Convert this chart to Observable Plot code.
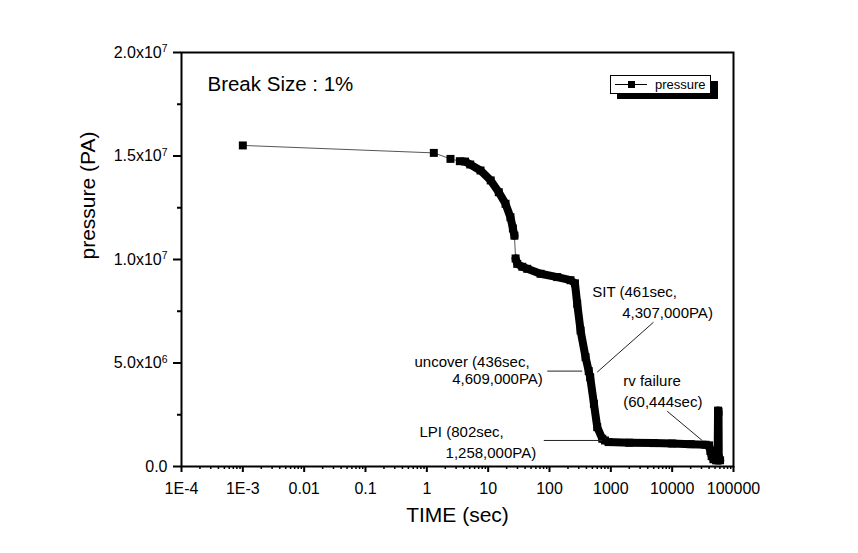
<!DOCTYPE html>
<html>
<head>
<meta charset="utf-8">
<script src="https://cdn.jsdelivr.net/npm/d3@7"></script>
<script src="https://cdn.jsdelivr.net/npm/@observablehq/plot@0.6"></script>
<style>
  html, body { margin: 0; padding: 0; background: #fff; }
  #chart svg { display: block; font-family: "Liberation Sans", Arial, sans-serif; }
</style>
</head>
<body>
<div id="chart"></div>
<script>
// ---- data ----
// band: 0 = isolated marker, 1 = first dense run, 2 = second dense run
const timeSec = [0.001, 1.3, 2.43, 3.45,
  4.2, 5.1, 7.5, 11, 14.9, 19.2, 23.1, 25.3, 26.8,
  28.0, 29.8, 36, 43.4, 71.5, 134, 220, 260, 283, 321, 387, 436, 461, 530, 600, 725, 802, 918,
  2000, 5000, 10000, 20000, 35000, 40000, 42000, 44000, 47000, 52000, 55000, 56000, 57000, 57500, 60444];
const pressurePa = [1.551e7, 1.515e7, 1.486e7, 1.475e7,
  1.473e7, 1.459e7, 1.430e7, 1.382e7, 1.325e7, 1.269e7, 1.204e7, 1.15e7, 1.115e7,
  1.005e7, 9.79e6, 9.65e6, 9.55e6, 9.31e6, 9.15e6, 9.0e6, 8.85e6, 7.86e6, 6.57e6, 5.28e6, 4.609e6, 4.307e6, 3.03e6, 1.9e6, 1.34e6, 1.258e6, 1.18e6,
  1.15e6, 1.13e6, 1.11e6, 1.08e6, 1.05e6, 1.02e6, 0.75e6, 0.5e6, 0.35e6, 0.3e6, 0.3e6, 2.7e6, 2.65e6, 0.4e6, 0.3e6];
const band = [0, 0, 0, 0,
  1, 1, 1, 1, 1, 1, 1, 1, 1,
  2, 2, 2, 2, 2, 2, 2, 2, 2, 2, 2, 2, 2, 2, 2, 2, 2, 2,
  2, 2, 2, 2, 2, 2, 2, 2, 2, 2, 2, 2, 2, 2, 2];

// axis ticks
const xMajorTicks = [1e-4, 1e-3, 1e-2, 1e-1, 1, 10, 100, 1000, 10000, 100000];
const xTickLabels = ["1E-4", "1E-3", "0.01", "0.1", "1", "10", "100", "1000", "10000", "100000"];
const yMajorTicks = [0, 5e6, 1e7, 1.5e7, 2e7];
const yTickMantissa = ["0.0", "5.0x10", "1.0x10", "1.5x10", "2.0x10"];
const yTickExponent = ["", "6", "7", "7", "7"];
const yMinorTicks = [2.5e6, 7.5e6, 1.25e7, 1.75e7];

// annotations (data coordinates)
const annoText = ["SIT (461sec,", "4,307,000PA)", "uncover (436sec,", "4,609,000PA)",
  "rv failure", "(60,444sec)", "LPI (802sec,", "1,258,000PA)"];
const annoTime = [498, 1535, 0.63, 2.59, 1592, 1592, 0.76, 2.02];
const annoPressure = [8.42e6, 7.41e6, 5.04e6, 4.24e6, 4.12e6, 3.106e6, 1.657e6, 0.662e6];
const leaderT1 = [4966, 91.8, 8300, 80.7];
const leaderP1 = [6.97e6, 4.609e6, 2.67e6, 1.258e6];
const leaderT2 = [600, 341, 30900, 725];
const leaderP2 = [4.56e6, 4.609e6, 1.256e6, 1.258e6];

const breakLabel = "Break Size : 1%";
const breakAt = {t: 2.65e-4, p: 1.845e7};

// ---- build tables ----
const data = timeSec.map((t, i) => ({t, p: pressurePa[i], band: band[i]}));
const dense = data.filter(d => d.band > 0);
const annos = annoText.map((s, i) => ({s, t: annoTime[i], p: annoPressure[i]}));
const leaders = leaderT1.map((t1, i) => ({t1, p1: leaderP1[i], t2: leaderT2[i], p2: leaderP2[i]}));
const xMinorTicks = [];
for (let e = -4; e < 5; e++) for (let k = 2; k <= 9; k++) xMinorTicks.push(k * Math.pow(10, e));
const xFmt = new Map(xMajorTicks.map((v, i) => [v, xTickLabels[i]]));
const yFmt = new Map(yMajorTicks.map((v, i) => [v, yTickMantissa[i] + (yTickExponent[i] ? "^" + yTickExponent[i] : "")]));

const W = 858, H = 553;
const plot = Plot.plot({
  width: W, height: H,
  marginLeft: 181, marginRight: 125, marginTop: 52, marginBottom: 87,
  style: {fontFamily: '"Liberation Sans", Arial, sans-serif', color: "#000", background: "#fff"},
  x: {type: "log", domain: [1e-4, 1e5]},
  y: {domain: [0, 2e7]},
  marks: [
    Plot.axisX(xMinorTicks, {tickSize: 3, strokeWidth: 1.5, text: null}),
    Plot.axisX(xMajorTicks, {tickSize: 6, strokeWidth: 2, tickPadding: 10, fontSize: 16, tickFormat: d => xFmt.get(d), label: null}),
    Plot.axisY(yMinorTicks, {tickSize: 4, strokeWidth: 2, text: null}),
    Plot.axisY(yMajorTicks, {tickSize: 8, strokeWidth: 2, tickPadding: 6, fontSize: 16, tickFormat: d => yFmt.get(d), label: null}),
    Plot.frame({stroke: "#000", strokeWidth: 2}),
    Plot.line(data, {x: "t", y: "p", stroke: "#555", strokeWidth: 1}),
    Plot.line(dense, {x: "t", y: "p", z: "band", stroke: "#000", strokeWidth: 8, strokeLinejoin: "round"}),
    Plot.dot(data, {x: "t", y: "p", symbol: "square", r: 4.5, fill: "#000", stroke: null}),
    Plot.link(leaders, {x1: "t1", y1: "p1", x2: "t2", y2: "p2", stroke: "#222", strokeWidth: 1}),
    Plot.text(annos, {x: "t", y: "p", text: "s", textAnchor: "start", fontSize: 15, fill: "#000"}),
    Plot.text([breakLabel], {x: () => breakAt.t, y: () => breakAt.p, text: d => d, textAnchor: "start", fontSize: 20.5, fill: "#000"}),
    Plot.text(["TIME (sec)"], {frameAnchor: "bottom", dy: 55, text: d => d, fontSize: 21, fill: "#000"}),
    Plot.text(["pressure (PA)"], {frameAnchor: "left", dx: -93, rotate: -90, text: d => d, fontSize: 21, fill: "#000"})
  ]
});
document.getElementById("chart").appendChild(plot);

const svg = d3.select(plot);
// superscript exponents on y tick labels
svg.selectAll("text").each(function() {
  const s = this.textContent;
  if (s.includes("x10^") && this.childElementCount === 0) {
    const [m, e] = s.split("^");
    const t = d3.select(this);
    t.text(null);
    t.append("tspan").text(m);
    t.append("tspan").attr("dy", "-0.5em").attr("font-size", "0.65em").text(e);
  }
});

// legend box with drop shadow
const lg = svg.append("g").attr("text-anchor", "start");
lg.append("rect").attr("x", 617).attr("y", 81).attr("width", 101).attr("height", 18).attr("fill", "#000");
lg.append("rect").attr("x", 610.5).attr("y", 75.5).attr("width", 100).attr("height", 18).attr("fill", "#fff").attr("stroke", "#000").attr("stroke-width", 1);
lg.append("line").attr("x1", 615).attr("x2", 647).attr("y1", 84.5).attr("y2", 84.5).attr("stroke", "#000").attr("stroke-width", 1);
lg.append("rect").attr("x", 628).attr("y", 81).attr("width", 7).attr("height", 7).attr("fill", "#000");
lg.append("text").attr("x", 655).attr("y", 84.5).attr("dy", "0.35em").attr("font-size", 13).attr("fill", "#000").attr("text-anchor", "start").text("pressure");
</script>
</body>
</html>
